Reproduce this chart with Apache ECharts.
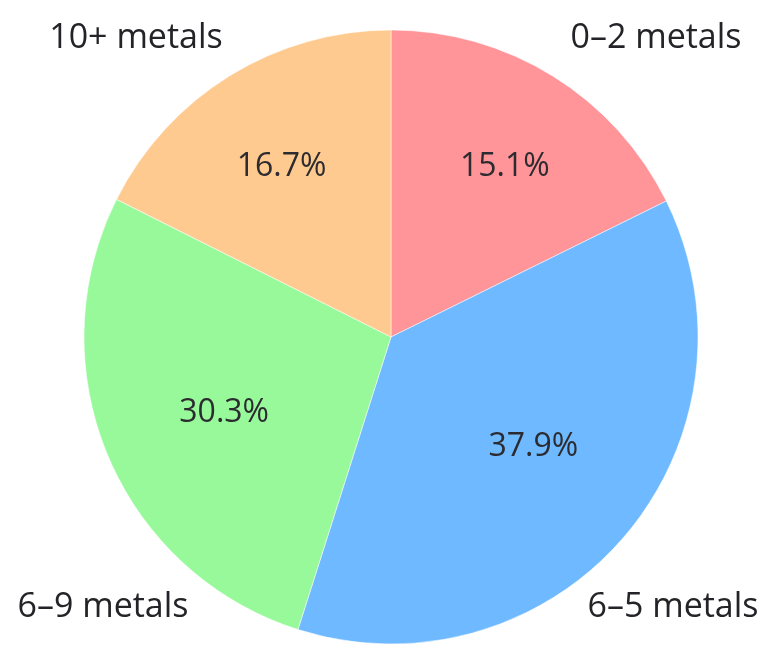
<!DOCTYPE html>
<html>
<head>
<meta charset="utf-8">
<script src="https://cdn.jsdelivr.net/npm/echarts@6/dist/echarts.min.js"></script>
<style>html,body{margin:0;padding:0;background:#fff}#c{width:775px;height:656px}</style>
</head>
<body>
<div id="c"></div>
<script>
// Category names, clockwise from 12 o'clock
const categories = ['0\u20132 metals', '6\u20135 metals', '6\u20139 metals', '10+ metals'];
// Slice shares as drawn in the picture (angular share, %)
const sliceShares = [17.7, 37.2, 27.5, 17.6];
// Percent text printed on each slice
const percentLabels = ['15.1%', '37.9%', '30.3%', '16.7%'];
const colors = ['#FF9499', '#6EB9FF', '#98F99B', '#FFCA8F'];

const labelPos = [[656, 38], [673, 607], [103, 607], [136, 38]];
const labelNudge = [[12, -6], [-4, -16], [11, 1], [-8, -6]];

const chart = echarts.init(document.getElementById('c'));
const FONT = '"Open Sans", "Noto Sans", sans-serif';
const CENTER = [391, 337];
chart.setOption({
  animation: false,
  series: [
    {
      type: 'pie',
      center: CENTER,
      radius: [0, 307],
      startAngle: 90,
      clockwise: true,
      data: categories.map((n, i) => ({ name: n, value: sliceShares[i], itemStyle: { color: colors[i] } })),
      itemStyle: { borderColor: 'rgba(255,255,255,0.5)', borderWidth: 1 },
      label: { show: false },
      labelLine: { show: false },
      emphasis: { disabled: true }
    },
    {
      type: 'pie',
      center: CENTER,
      radius: [0, 380],
      startAngle: 90,
      clockwise: true,
      silent: true,
      data: categories.map((n, i) => ({ name: n, value: sliceShares[i], itemStyle: { color: 'rgba(0,0,0,0)' } })),
      itemStyle: { borderWidth: 0 },
      label: {
        show: true,
        position: 'inside',
        formatter: p => percentLabels[p.dataIndex],
        fontFamily: FONT,
        fontSize: 32,
        color: '#2c2c30'
      },
      labelLayout: p => ({ dx: labelNudge[p.dataIndex][0], dy: labelNudge[p.dataIndex][1] }),
      labelLine: { show: false },
      emphasis: { disabled: true }
    }
  ],
  graphic: categories.map((n, i) => ({
    type: 'text',
    x: labelPos[i][0],
    y: labelPos[i][1],
    style: {
      text: n,
      fontFamily: FONT,
      fontSize: 34,
      fill: '#242428',
      align: 'center',
      verticalAlign: 'middle'
    }
  }))
});
</script>
</body>
</html>
